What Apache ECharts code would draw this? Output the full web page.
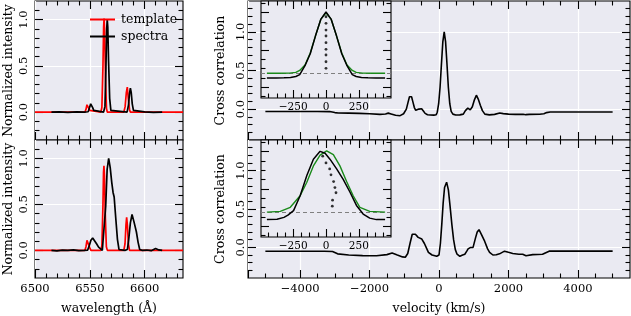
<!DOCTYPE html>
<html><head><meta charset="utf-8">
<script src="https://cdn.jsdelivr.net/npm/echarts@6/dist/echarts.min.js"></script>
<style>html,body{margin:0;padding:0;background:#fff}#c{width:631px;height:316px}</style>
</head><body><div id="c"></div>
<script>
// ---------- DATA ----------
// Top-left: template (red) and spectra (black)
const tlTemplateWl = [6500, 6545.5, 6546.5, 6547.4, 6548.2, 6549.0, 6550.0, 6551.0, 6560.0, 6561.0, 6562.0, 6562.6, 6563.0, 6563.5, 6564.3, 6565.2, 6566.0, 6581.0, 6582.2, 6583.3, 6584.2, 6585.1, 6586.2, 6587.0, 6635];
const tlTemplateI  = [0, 0, 0.03, 0.08, 0.10, 0.07, 0.02, 0, 0, 0.05, 0.5, 0.92, 1.01, 0.88, 0.38, 0.04, 0, 0, 0.06, 0.21, 0.27, 0.15, 0.03, 0, 0];
const tlSpectraWl  = [6515, 6522, 6530, 6538, 6545, 6548.5, 6549.8, 6550.8, 6551.6, 6552.6, 6553.6, 6555, 6562.5, 6563.8, 6564.7, 6565.4, 6565.9, 6566.4, 6567.1, 6568.1, 6569.2, 6570.5, 6584, 6585.3, 6586.2, 6587.0, 6587.8, 6588.7, 6589.8, 6591.5, 6600, 6608, 6616];
const tlSpectraI   = [0, 0.004, -0.002, 0.003, 0, 0.005, 0.05, 0.09, 0.09, 0.05, 0.02, 0, 0, 0.06, 0.48, 0.9, 1.0, 0.92, 0.55, 0.15, 0.02, 0, 0, 0.08, 0.2, 0.26, 0.21, 0.09, 0.02, 0, 0.003, -0.002, 0];
// Bottom-left
const blTemplateWl = [6500, 6545.5, 6546.5, 6547.4, 6548.1, 6548.9, 6549.9, 6551, 6560, 6561, 6562, 6562.5, 6562.9, 6563.4, 6564.2, 6565.1, 6566, 6581, 6582.1, 6583, 6583.6, 6584.3, 6585.2, 6586.2, 6635];
const blTemplateI  = [0, 0, 0.04, 0.11, 0.13, 0.09, 0.03, 0, 0, 0.05, 0.5, 0.85, 0.92, 0.8, 0.35, 0.04, 0, 0, 0.07, 0.28, 0.36, 0.27, 0.07, 0, 0];
const blSpectraWl  = [6515, 6520, 6525, 6530, 6535, 6540, 6545, 6548, 6549.5, 6551, 6552.6, 6554, 6556, 6558, 6559.5, 6561.4, 6563.0, 6564.5, 6565.8, 6567.2, 6568.6, 6570, 6571.2, 6572.2, 6573.6, 6575.2, 6576.6, 6578, 6582, 6584.3, 6585.5, 6587, 6588.5, 6590.3, 6591.5, 6592.5, 6594, 6595.5, 6598, 6602, 6606, 6610, 6613, 6616];
const blSpectraI   = [0, -0.005, 0.003, 0, 0.006, -0.003, 0, 0.003, 0.05, 0.11, 0.135, 0.12, 0.075, 0.035, 0.015, 0, 0.02, 0.48, 0.88, 1.0, 0.9, 0.74, 0.63, 0.58, 0.36, 0.12, 0.01, 0, 0, 0.01, 0.12, 0.3, 0.39, 0.31, 0.25, 0.2, 0.09, 0.01, 0, 0.004, -0.003, 0.02, 0.005, 0];
// Top-right cross correlation
const trVel = [-5000, -4500, -4000, -3500, -3150, -3000, -2900, -2600, -2300, -2000, -1700, -1540, -1460, -1380, -1250, -1120, -1020, -940, -890, -850, -820, -790, -750, -710, -670, -630, -580, -540, -500, -450, -400, -330, -250, -150, -80, -50, -10, 30, 70, 110, 150, 190, 230, 270, 310, 350, 400, 480, 600, 700, 760, 830, 900, 960, 1020, 1076, 1130, 1190, 1250, 1320, 1450, 1600, 1750, 1850, 2000, 2200, 2420, 2460, 2500, 2600, 2900, 3020, 3100, 3200, 3600, 4000, 4500, 5000];
const trCcf = [-0.03, -0.03, -0.03, -0.03, -0.032, -0.045, -0.05, -0.052, -0.055, -0.06, -0.068, -0.063, -0.052, -0.062, -0.08, -0.085, -0.06, 0.0, 0.09, 0.16, 0.18, 0.16, 0.09, 0.02, -0.015, -0.02, 0.0, 0.012, 0.005, -0.025, -0.055, -0.072, -0.077, -0.078, -0.072, -0.04, 0.07, 0.28, 0.58, 0.87, 1.0, 0.87, 0.58, 0.28, 0.07, -0.03, -0.065, -0.077, -0.075, -0.065, -0.02, 0.013, -0.01, 0.03, 0.12, 0.18, 0.13, 0.05, -0.02, -0.065, -0.075, -0.068, -0.05, -0.058, -0.065, -0.068, -0.066, -0.058, -0.072, -0.068, -0.066, -0.06, -0.045, -0.038, -0.037, -0.037, -0.037, -0.037];
// Bottom-right cross correlation
const brVel = [-5000, -4000, -3300, -3066, -2920, -2600, -2200, -1800, -1500, -1350, -1200, -1050, -970, -900, -830, -770, -734, -680, -600, -495, -420, -350, -305, -200, -66, 0, 40, 80, 120, 160, 219, 270, 320, 370, 420, 470, 520, 600, 680, 743, 800, 838, 900, 981, 1050, 1100, 1152, 1220, 1314, 1400, 1457, 1552, 1650, 1743, 1886, 2000, 2124, 2300, 2410, 2457, 2505, 2700, 2981, 3171, 3600, 4000, 4500, 5000];
const brCcf = [-0.052, -0.052, -0.052, -0.055, -0.085, -0.1, -0.108, -0.11, -0.095, -0.074, -0.1, -0.125, -0.13, -0.08, 0.06, 0.17, 0.195, 0.17, 0.13, 0.108, 0.05, -0.02, -0.065, -0.1, -0.117, -0.1, 0.05, 0.3, 0.58, 0.78, 0.85, 0.75, 0.53, 0.3, 0.1, -0.03, -0.09, -0.117, -0.1, -0.09, -0.05, -0.02, -0.003, 0.0, 0.12, 0.2, 0.23, 0.17, 0.08, -0.02, -0.065, -0.1, -0.097, -0.085, -0.05, -0.065, -0.08, -0.09, -0.09, -0.074, -0.11, -0.095, -0.09, -0.05, -0.05, -0.05, -0.05, -0.05];
// Top inset
const tiFitVel = [-450, -350, -280, -230, -200, -160, -120, -80, -40, 0, 40, 80, 120, 160, 200, 230, 280, 350, 450];
const tiFitVal = [0.188, 0.188, 0.19, 0.2, 0.226, 0.3, 0.46, 0.69, 0.91, 1.0, 0.91, 0.69, 0.46, 0.3, 0.226, 0.2, 0.19, 0.188, 0.188];
const tiCcfVel = [-450, -380, -320, -270, -230, -200, -160, -120, -80, -40, 0, 40, 80, 120, 160, 200, 230, 270, 320, 380, 450];
const tiCcfVal = [0.125, 0.125, 0.127, 0.132, 0.145, 0.17, 0.29, 0.45, 0.69, 0.91, 1.01, 0.91, 0.69, 0.45, 0.29, 0.17, 0.145, 0.132, 0.127, 0.125, 0.125];
const tiBisVel = [0, 0, 0, 0, 0, 0, 0, 0, 0];
const tiBisVal = [0.946, 0.858, 0.768, 0.688, 0.598, 0.509, 0.433, 0.343, 0.255];
const tiBaseline = 0.19;
// Bottom inset
const biFitVel = [-450, -348, -272, -197, -146, -96, -45, 5, 56, 106, 157, 207, 258, 333, 450];
const biFitVal = [0.19, 0.2, 0.255, 0.41, 0.59, 0.81, 0.955, 1.01, 0.96, 0.81, 0.6, 0.41, 0.255, 0.2, 0.19];
const biCcfVel = [-450, -373, -320, -290, -247, -197, -146, -96, -45, -7, 30, 81, 131, 182, 232, 283, 333, 384, 450];
const biCcfVal = [0.09, 0.095, 0.12, 0.15, 0.21, 0.41, 0.68, 0.9, 1.005, 0.98, 0.9, 0.77, 0.63, 0.46, 0.28, 0.165, 0.11, 0.09, 0.09];
const biBisVel = [-25, 0, 28, 38, 58, 68, 76, 50, 48];
const biBisVal = [0.94, 0.85, 0.77, 0.69, 0.60, 0.52, 0.45, 0.35, 0.27];
const biBaseline = 0.19;
// Tick labels
const wlTickLabels = [6500, 6550, 6600];
const velTickLabels = [-4000, -2000, 0, 2000, 4000];
const yTickLabels = [0, 0.5, 1.0];
const insetTickLabels = [-250, 0, 250];

// ---------- BUILD ----------
const FONT = 'DejaVu Serif';
const BG = '#EAEAF2';
const FS = 11.5;
const MAJ = 8, MIN = 4.5;
function seq(min, max, step) { const o = []; const s = Math.ceil((min - 1e-9) / step); for (let k = s; k * step <= max + 1e-9; k++) o.push(+(k * step).toFixed(6)); return o; }
function pairs(a, b) { return a.map((v, i) => [v, b[i]]); }
const minus = v => (v < 0 ? '\u2212' : '') + Math.abs(v);

const grids = [
  { left: 35, top: 1, width: 148, height: 139 },
  { left: 35, top: 140, width: 148, height: 139 },
  { left: 248, top: 1, width: 382, height: 139 },
  { left: 248, top: 140, width: 382, height: 139 },
  { left: 261, top: 1, width: 130, height: 97 },
  { left: 261, top: 140, width: 130, height: 97 }
].map((g, i) => Object.assign(g, { show: true, backgroundColor: BG, borderColor: '#000', borderWidth: 1.1, z: i >= 4 ? 5 : 0 }));

const xAxes = [], yAxes = [];
function axis(dimArr, g, pos, sc, ticks, len, z, extra) {
  const a = Object.assign({
    type: 'value', gridIndex: g, position: pos, min: sc.min, max: sc.max, z: z,
    axisLine: { show: false, onZero: false },
    axisTick: { show: true, inside: true, length: len, customValues: ticks, lineStyle: { color: '#000', width: 1.1 } },
    axisLabel: { show: false },
    splitLine: { show: false }
  }, extra || {});
  dimArr.push(a);
  return dimArr.length - 1;
}
function buildAxes(g, xs, ys, z) {
  const majX = seq(xs.min, xs.max, xs.major).filter(v => v > xs.min && v < xs.max);
  const minX = seq(xs.min, xs.max, xs.minor).filter(v => v > xs.min && v < xs.max && !majX.some(m => Math.abs(m - v) < 1e-6));
  const majY = seq(ys.min, ys.max, ys.major).filter(v => v > ys.min && v < ys.max);
  const minY = seq(ys.min, ys.max, ys.minor).filter(v => v > ys.min && v < ys.max && !majY.some(m => Math.abs(m - v) < 1e-6));
  const xExtra = {
    splitLine: { show: !!xs.split, lineStyle: { color: '#fff', width: 1.2 } },
    axisLabel: xs.labels ? { show: true, customValues: xs.labels, margin: xs.margin, fontSize: xs.fs, fontFamily: FONT, color: '#000', formatter: minus } : { show: false },
    name: xs.name || '', nameLocation: 'middle', nameGap: xs.nameGap || 0,
    nameTextStyle: { fontFamily: FONT, fontSize: 12.5, color: '#000' }
  };
  const xi = axis(xAxes, g, 'bottom', xs, xs.split ? [xs.min].concat(majX) : majX, MAJ, z, xExtra);
  axis(xAxes, g, 'bottom', xs, minX, MIN, z);
  axis(xAxes, g, 'top', xs, majX, MAJ, z);
  axis(xAxes, g, 'top', xs, minX, MIN, z);
  const yExtra = {
    splitLine: { show: !!ys.split, lineStyle: { color: '#fff', width: 1.2 } },
    axisLabel: ys.labels ? { show: true, customValues: ys.labels, rotate: 90, margin: ys.margin, fontSize: ys.fs, fontFamily: FONT, color: '#000', formatter: v => v.toFixed(1) } : { show: false },
    name: ys.name || '', nameLocation: 'middle', nameGap: ys.nameGap || 0,
    nameTextStyle: { fontFamily: FONT, fontSize: 12.5, color: '#000' }
  };
  const yi = axis(yAxes, g, 'left', ys, majY, MAJ, z, yExtra);
  axis(yAxes, g, 'left', ys, minY, MIN, z);
  axis(yAxes, g, 'right', ys, majY, MAJ, z);
  axis(yAxes, g, 'right', ys, minY, MIN, z);
  return { x: xi, y: yi };
}
const wlScale = { min: 6500, max: 6635, major: 50, minor: 10, split: true };
const leftY = { min: -0.3, max: 1.2, major: 0.5, minor: 0.1, split: true, labels: yTickLabels, margin: 5, fs: FS, name: 'Normalized intensity', nameGap: 20 };
const velScale = { min: -5500, max: 5500, major: 2000, minor: 500, split: true };
const rightY = { min: -0.4, max: 1.4, major: 0.5, minor: 0.1, split: true, labels: yTickLabels, margin: 1, fs: FS, name: 'Cross correlation', nameGap: 19 };
const insX = { min: -495, max: 495, major: 250, minor: 62.5, labels: insetTickLabels, margin: 4, fs: 10.5 };
const insY = { min: -0.143, max: 1.157, major: 0.5, minor: 0.125 };

const A0 = buildAxes(0, wlScale, leftY, 1);
const A1 = buildAxes(1, Object.assign({}, wlScale, { labels: wlTickLabels, margin: 5, fs: FS, name: 'wavelength (Å)', nameGap: 24 }), leftY, 1);
const A2 = buildAxes(2, velScale, rightY, 1);
const A3 = buildAxes(3, Object.assign({}, velScale, { labels: velTickLabels, margin: 5, fs: FS, name: 'velocity (km/s)', nameGap: 24 }), rightY, 1);
const A4 = buildAxes(4, insX, insY, 7);
const A5 = buildAxes(5, insX, insY, 7);

function line(name, A, data, color, z, w, extra) {
  return Object.assign({ name, type: 'line', xAxisIndex: A.x, yAxisIndex: A.y, data, symbol: 'none', showSymbol: false,
    lineStyle: { color, width: w || 1.5 }, itemStyle: { color }, z: z, animation: false }, extra || {});
}
const dashed = v => ({ markLine: { silent: true, symbol: 'none', label: { show: false }, animation: false,
  lineStyle: { type: [4, 3], color: '#808080', width: 1.2 }, data: [{ yAxis: v }] } });

const series = [
  line('template', A0, pairs(tlTemplateWl, tlTemplateI), '#ff0000', 2, 1.7),
  line('spectra', A0, pairs(tlSpectraWl, tlSpectraI), '#000000', 3, 1.7),
  line('template', A1, pairs(blTemplateWl, blTemplateI), '#ff0000', 2, 1.7),
  line('spectra', A1, pairs(blSpectraWl, blSpectraI), '#000000', 3, 1.7),
  line('ccf1', A2, pairs(trVel, trCcf), '#000000', 2, 1.6),
  line('ccf2', A3, pairs(brVel, brCcf), '#000000', 2, 1.6),
  line('fit1', A4, pairs(tiFitVel, tiFitVal), '#1a8a1a', 8, 1.4, dashed(tiBaseline)),
  line('ins1', A4, pairs(tiCcfVel, tiCcfVal), '#000000', 9, 1.5),
  { name: 'bis1', type: 'scatter', xAxisIndex: A4.x, yAxisIndex: A4.y, data: pairs(tiBisVel, tiBisVal), symbol: 'circle', symbolSize: 2.8, itemStyle: { color: '#000' }, z: 10, animation: false },
  line('fit2', A5, pairs(biFitVel, biFitVal), '#1a8a1a', 8, 1.4, dashed(biBaseline)),
  line('ins2', A5, pairs(biCcfVel, biCcfVal), '#000000', 9, 1.5),
  { name: 'bis2', type: 'scatter', xAxisIndex: A5.x, yAxisIndex: A5.y, data: pairs(biBisVel, biBisVal), symbol: 'circle', symbolSize: 2.8, itemStyle: { color: '#000' }, z: 10, animation: false }
];

const chart = echarts.init(document.getElementById('c'), null, { renderer: 'canvas' });
chart.setOption({
  animation: false,
  backgroundColor: '#fff',
  grid: grids,
  xAxis: xAxes,
  yAxis: yAxes,
  legend: {
    data: [{ name: 'template', icon: 'rect' }, { name: 'spectra', icon: 'rect' }],
    orient: 'vertical', left: 85, top: 8,
    itemWidth: 25, itemHeight: 2, itemGap: 4,
    textStyle: { fontFamily: FONT, fontSize: 12.5, color: '#000', padding: [0, 0, 0, 1] }
  },
  series: series
});
</script></body></html>
